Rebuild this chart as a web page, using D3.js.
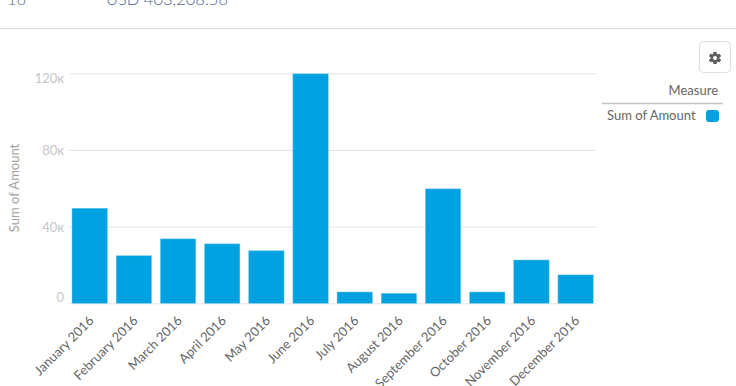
<!DOCTYPE html>
<html lang="en">
<head>
<meta charset="UTF-8">
<title>Sum of Amount by Month</title>
<script src="https://d3js.org/d3.v7.min.js"></script>
<style>
    html, body { margin: 0; padding: 0; background: #fff; overflow: hidden; }
    text { font-family: Lato, "Open Sans", sans-serif; }
    .grid line { stroke: #e4e4e4; }
    .grid path { display: none; }
    .y-axis path, .y-axis line, .x-axis path, .x-axis line { display: none; }
    .y-axis text { fill: #c6c6c6; font-size: 13px; }
    .x-axis text { fill: #666; font-size: 13px; }
</style>
</head>
<body>
<div id="chart"></div>
<script>
const months = ["January 2016", "February 2016", "March 2016", "April 2016", "May 2016", "June 2016",
    "July 2016", "August 2016", "September 2016", "October 2016", "November 2016", "December 2016"];
const amounts = [49600, 24800, 33600, 31000, 27400, 119700, 5900, 5200, 59700, 5900, 22600, 14800];
const yTicks = [0, 40000, 80000, 120000];

const svg = d3.select("#chart").append("svg")
    .attr("width", 736)
    .attr("height", 386);

// header row, cut off by the top of the picture
svg.append("text").attr("x", 7).attr("y", 5).attr("font-size", 16.5).attr("font-weight", 300).attr("fill", "#54698d").text("16");
svg.append("text").attr("x", 106).attr("y", 5).attr("font-size", 16.5).attr("font-weight", 300).attr("fill", "#54698d").text("USD 403,208.56");
svg.append("line").attr("x1", 0).attr("x2", 736).attr("y1", 28.5).attr("y2", 28.5).attr("stroke", "#dcdcdc");

const x = d3.scaleBand().domain(months).range([67.6, 597.7]).paddingInner(0.2).paddingOuter(0.1);
const y = d3.scaleLinear().domain([0, 120000]).range([303.3, 73.3]);

// gridlines
svg.append("g")
    .attr("class", "grid")
    .attr("transform", "translate(69,0)")
    .call(d3.axisLeft(y).tickValues(yTicks).tickSize(-527).tickFormat(""));

// y labels: the first and last stay inside the plot, the middle ones sit on their line
const labelShift = v => v === 0 ? -6 : v === 120000 ? 5 : 0.5;
svg.append("g")
    .attr("class", "y-axis")
    .attr("transform", "translate(64,0)")
    .call(d3.axisLeft(y).tickValues(yTicks).tickSize(0).tickPadding(0)
        .tickFormat(d => d === 0 ? "0" : (d / 1000) + "\u043a"))
    .selectAll("text")
    .attr("y", labelShift);

svg.append("text")
    .attr("transform", "translate(19,188) rotate(-90)")
    .attr("text-anchor", "middle")
    .attr("font-size", 13)
    .attr("fill", "#a3a3a3")
    .text("Sum of Amount");

// bars
svg.selectAll("rect.bar")
    .data(months)
    .enter()
    .append("rect")
    .attr("class", "bar")
    .attr("x", d => x(d))
    .attr("y", (d, i) => y(amounts[i]))
    .attr("width", x.bandwidth())
    .attr("height", (d, i) => y(0) - y(amounts[i]))
    .attr("fill", "#00a1e0")
    .attr("stroke", "#6fcbef")
    .attr("stroke-width", 0.5);

// x labels
svg.append("g")
    .attr("class", "x-axis")
    .attr("transform", "translate(0,303.5)")
    .call(d3.axisBottom(x).tickSize(0).tickPadding(0))
    .selectAll("text")
    .attr("text-anchor", "end")
    .attr("dy", 0)
    .attr("transform", "translate(4.8,18) rotate(-45)");

// settings button
svg.append("rect")
    .attr("x", 699.5).attr("y", 41.5).attr("width", 31).attr("height", 31).attr("rx", 4)
    .attr("fill", "#fff").attr("stroke", "#d8dde6");
const cog = svg.append("g").attr("transform", "translate(715,58)").attr("fill", "#5f5f5f");
d3.range(6).forEach(i => {
    cog.append("rect").attr("x", -1.5).attr("y", -6).attr("width", 3).attr("height", 12)
        .attr("transform", `rotate(${i * 60})`);
});
cog.append("circle").attr("r", 4.5);
cog.append("circle").attr("r", 2).attr("fill", "#fff");

// legend
svg.append("text").attr("x", 718).attr("y", 95).attr("text-anchor", "end")
    .attr("font-size", 13).attr("fill", "#666").text("Measure");
svg.append("line").attr("x1", 602).attr("x2", 723).attr("y1", 103.5).attr("y2", 103.5)
    .attr("stroke", "#c4c4c4").attr("stroke-width", 1.5);
svg.append("text").attr("x", 607).attr("y", 120)
    .attr("font-size", 13).attr("fill", "#666").text("Sum of Amount");
svg.append("rect").attr("x", 706).attr("y", 110).attr("width", 13).attr("height", 12).attr("rx", 3)
    .attr("fill", "#00a1e0");
</script>
</body>
</html>
